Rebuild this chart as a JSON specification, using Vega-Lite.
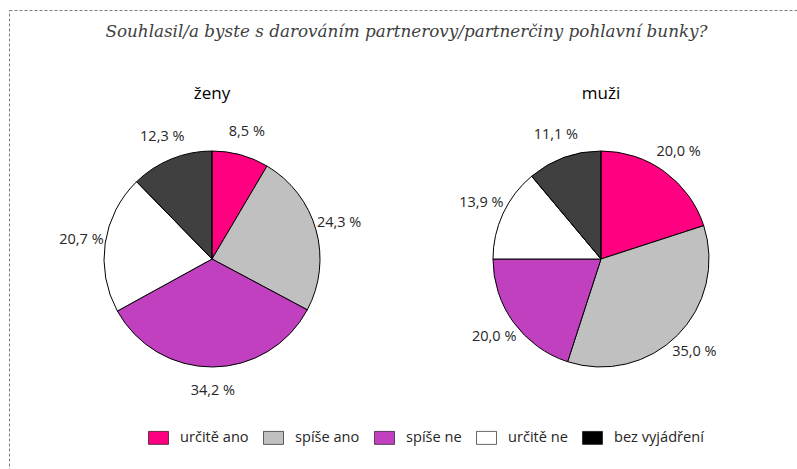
{
  "$schema": "https://vega.github.io/schema/vega-lite/v6.json",
  "width": 795,
  "height": 498,
  "padding": {"left": 9, "top": 10, "right": 0, "bottom": 0},
  "background": "white",
  "title": {
    "text": "Souhlasil/a byste s darováním partnerovy/partnerčiny pohlavní bunky?",
    "font": "DejaVu Serif",
    "fontStyle": "italic",
    "fontWeight": "normal",
    "fontSize": 16.8,
    "color": "#404040",
    "anchor": "middle",
    "frame": "group",
    "offset": -31
  },
  "datasets": {
    "pies": [
      {"sex": "ženy", "idx": 1, "answer": "určitě ano", "value": 0.085},
      {"sex": "ženy", "idx": 2, "answer": "spíše ano", "value": 0.243},
      {"sex": "ženy", "idx": 3, "answer": "spíše ne", "value": 0.342},
      {"sex": "ženy", "idx": 4, "answer": "určitě ne", "value": 0.207},
      {"sex": "ženy", "idx": 5, "answer": "bez vyjádření", "value": 0.123},
      {"sex": "muži", "idx": 1, "answer": "určitě ano", "value": 0.200},
      {"sex": "muži", "idx": 2, "answer": "spíše ano", "value": 0.350},
      {"sex": "muži", "idx": 3, "answer": "spíše ne", "value": 0.200},
      {"sex": "muži", "idx": 4, "answer": "určitě ne", "value": 0.139},
      {"sex": "muži", "idx": 5, "answer": "bez vyjádření", "value": 0.111}
    ],
    "groups": [
      {"sex": "ženy"},
      {"sex": "muži"}
    ]
  },
  "data": {"name": "pies"},
  "encoding": {
    "x": {
      "field": "sex",
      "type": "nominal",
      "scale": {"type": "point", "domain": ["ženy", "muži"], "padding": 0.5219},
      "axis": null
    }
  },
  "layer": [
    {
      "transform": [{"filter": {"field": "sex", "equal": "ženy"}}],
      "layer": [
        {
          "mark": {"type": "arc", "outerRadius": 108, "stroke": "#000000", "strokeWidth": 1},
          "encoding": {
            "theta": {"field": "value", "type": "quantitative", "stack": true, "scale": {"domain": [0, 1]}},
            "order": {"field": "idx", "type": "quantitative"},
            "color": {
              "field": "answer",
              "type": "nominal",
              "scale": {
                "domain": ["určitě ano", "spíše ano", "spíše ne", "určitě ne", "bez vyjádření"],
                "range": ["#FF0080", "#C0C0C0", "#C040C0", "#FFFFFF", "#000000"]
              },
              "legend": {
                "orient": "none",
                "legendX": 139,
                "legendY": 417,
                "direction": "horizontal",
                "title": null,
                "symbolType": "M-1,-0.65H1V0.65H-1Z",
                "symbolSize": 400,
                "symbolStrokeWidth": 0.6,
                "symbolStrokeColor": "#808080",
                "labelFont": "Open Sans",
                "labelFontSize": 14.6,
                "labelColor": "#262626",
                "labelOffset": 11,
                "columnPadding": 13
              }
            },
            "fillOpacity": {
              "condition": {"test": "datum.answer === 'bez vyjádření'", "value": 0.75},
              "value": 1
            }
          }
        },
        {
          "mark": {"type": "text", "radius": 132, "font": "Open Sans", "fontSize": 14.5, "fill": "#262626", "align": "center", "baseline": "middle"},
          "encoding": {
            "theta": {"field": "value", "type": "quantitative", "stack": true},
            "order": {"field": "idx", "type": "quantitative"},
            "text": {"field": "value", "type": "quantitative", "format": ".1%"}
          }
        }
      ]
    },
    {
      "transform": [{"filter": {"field": "sex", "equal": "muži"}}],
      "layer": [
        {
          "mark": {"type": "arc", "outerRadius": 108, "stroke": "#000000", "strokeWidth": 1},
          "encoding": {
            "theta": {"field": "value", "type": "quantitative", "stack": true},
            "order": {"field": "idx", "type": "quantitative"},
            "color": {"field": "answer", "type": "nominal"},
            "fillOpacity": {
              "condition": {"test": "datum.answer === 'bez vyjádření'", "value": 0.75},
              "value": 1
            }
          }
        },
        {
          "mark": {"type": "text", "radius": 132, "font": "Open Sans", "fontSize": 14.5, "fill": "#262626", "align": "center", "baseline": "middle"},
          "encoding": {
            "theta": {"field": "value", "type": "quantitative", "stack": true},
            "order": {"field": "idx", "type": "quantitative"},
            "text": {"field": "value", "type": "quantitative", "format": ".1%"}
          }
        }
      ]
    },
    {
      "data": {"name": "groups"},
      "mark": {"type": "text", "radius": 165, "font": "Open Sans", "fontSize": 17, "fill": "#000000", "align": "center", "baseline": "middle"},
      "encoding": {
        "theta": {"value": 0},
        "text": {"field": "sex", "type": "nominal"}
      }
    }
  ],
  "config": {
    "view": {"stroke": "#7f7f7f", "strokeDash": [3, 2], "strokeWidth": 1},
    "locale": {
      "number": {"decimal": ",", "thousands": " ", "grouping": [3], "currency": ["", " Kč"], "percent": " %"}
    }
  }
}
